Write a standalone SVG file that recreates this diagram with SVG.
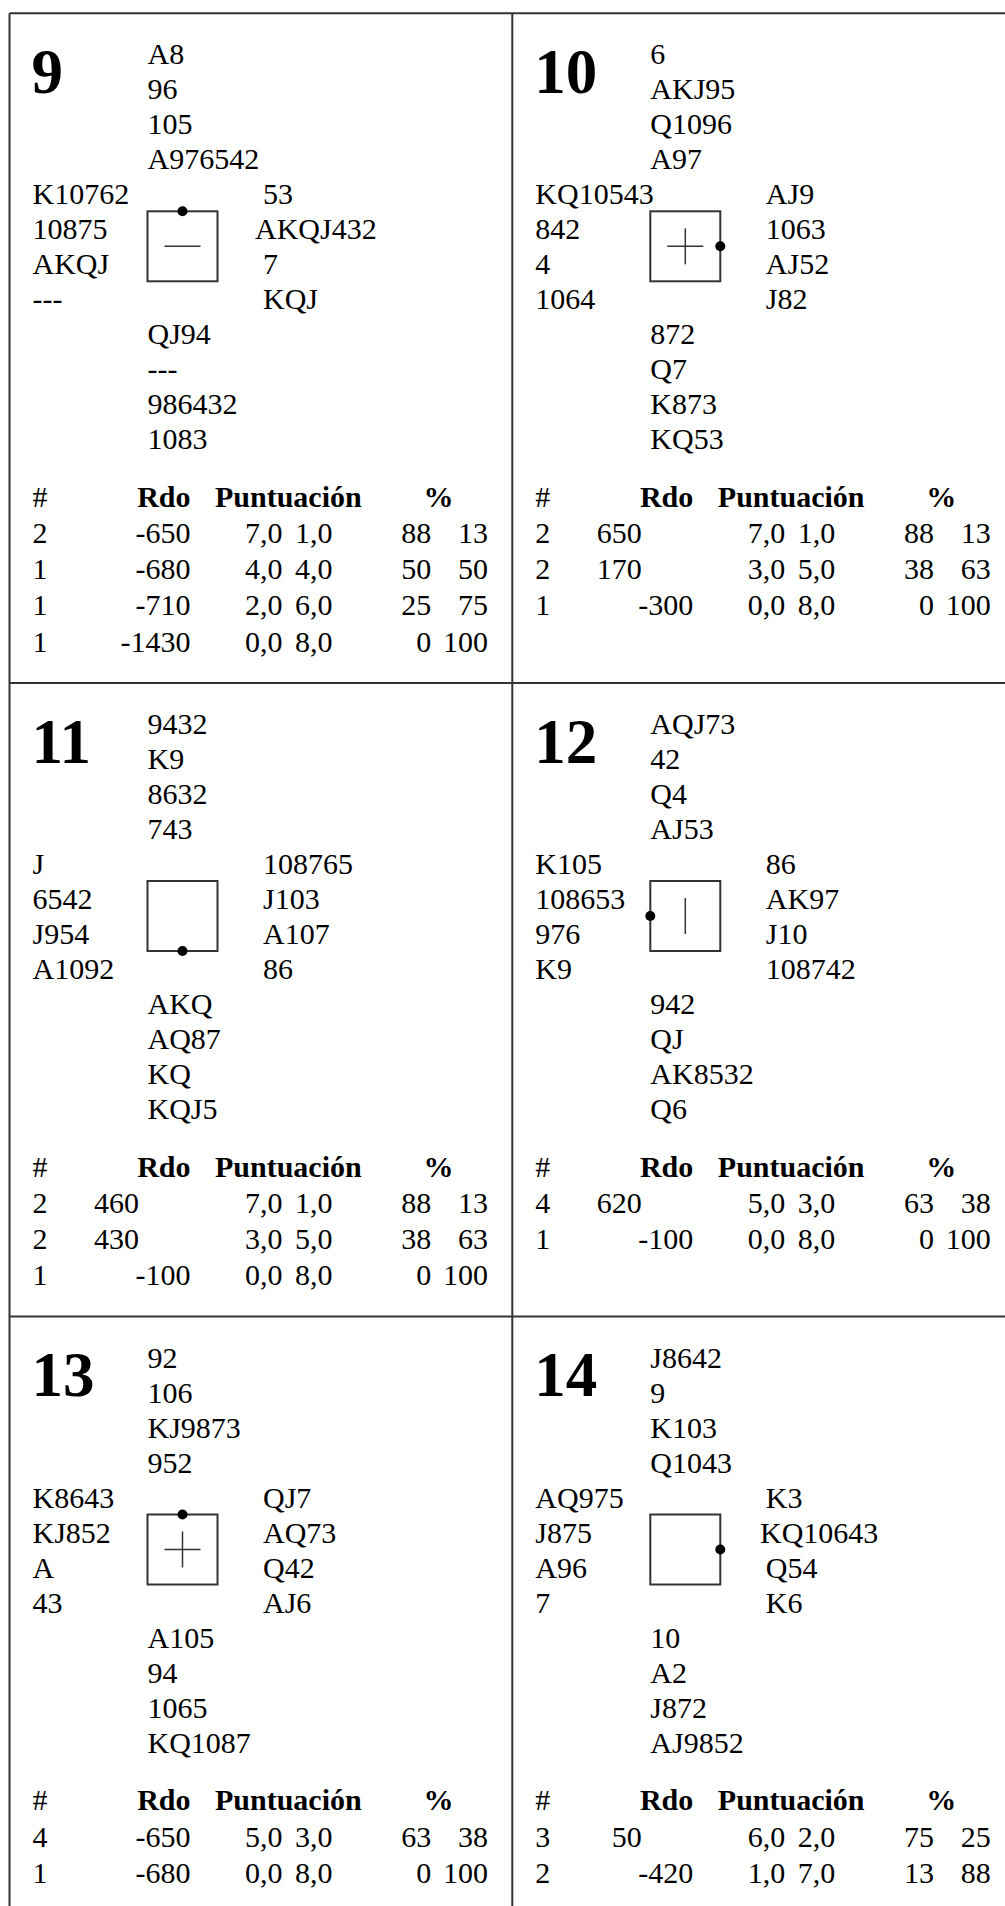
<svg xmlns="http://www.w3.org/2000/svg" width="1005" height="1906" viewBox="0 0 1005 1906">
<style>
text{font-family:"Liberation Serif","Times New Roman",serif;font-size:30px;fill:#000}
.n{font-size:63px;font-weight:bold}
.b{font-weight:bold}
.e{text-anchor:end}
.grid{stroke:#333;stroke-width:2;fill:none}
.box{stroke:#333;stroke-width:2;fill:none}
.mk{stroke:#333;stroke-width:1.5}
.dot{fill:#000}
</style>
<rect width="1005" height="1906" fill="#fff"/>
<g id="grid" class="grid">
<line x1="9.5" y1="13.3" x2="1005" y2="13.3"/>
<line x1="9.5" y1="13.3" x2="9.5" y2="1906"/>
<line x1="512.3" y1="13.3" x2="512.3" y2="1906"/>
<line x1="9.5" y1="683" x2="1005" y2="683"/>
<line x1="9.5" y1="1316.5" x2="1005" y2="1316.5"/>
</g>
<g id="connectors"></g>

<g id="p9" transform="translate(9.5,13.3)">
<text class="n" x="22" y="79.5">9</text>
<text x="138" y="51">A8</text><text x="138" y="86">96</text><text x="138" y="121">105</text><text x="138" y="156">A976542</text>
<text x="23" y="191">K10762</text><text x="23" y="226">10875</text><text x="23" y="261">AKQJ</text><text x="23" y="296">---</text>
<text x="253.5" y="191">53</text><text x="245.5" y="226">AKQJ432</text><text x="253.5" y="261">7</text><text x="253.5" y="296">KQJ</text>
<text x="138" y="331">QJ94</text><text x="138" y="366">---</text><text x="138" y="401">986432</text><text x="138" y="436">1083</text>
<rect class="box" x="138" y="198" width="70" height="70"/>
<line class="mk" x1="155" y1="233" x2="191" y2="233"/>
<circle class="dot" cx="173" cy="198" r="5"/>
<text x="23" y="493.5">#</text><text class="b e" x="181" y="493.5">Rdo</text><text class="b" x="205.5" y="493.5">Puntuación</text><text class="b" x="414" y="493.5">%</text>
<text x="23" y="530">2</text><text class="e" x="181" y="530">-650</text><text class="e" x="273" y="530">7,0</text><text class="e" x="323" y="530">1,0</text><text class="e" x="421.8" y="530">88</text><text class="e" x="478.5" y="530">13</text>
<text x="23" y="566">1</text><text class="e" x="181" y="566">-680</text><text class="e" x="273" y="566">4,0</text><text class="e" x="323" y="566">4,0</text><text class="e" x="421.8" y="566">50</text><text class="e" x="478.5" y="566">50</text>
<text x="23" y="602">1</text><text class="e" x="181" y="602">-710</text><text class="e" x="273" y="602">2,0</text><text class="e" x="323" y="602">6,0</text><text class="e" x="421.8" y="602">25</text><text class="e" x="478.5" y="602">75</text>
<text x="23" y="638.5">1</text><text class="e" x="181" y="638.5">-1430</text><text class="e" x="273" y="638.5">0,0</text><text class="e" x="323" y="638.5">8,0</text><text class="e" x="421.8" y="638.5">0</text><text class="e" x="478.5" y="638.5">100</text>
</g>

<g id="p10" transform="translate(512.3,13.3)">
<text class="n" x="22" y="79.5">10</text>
<text x="138" y="51">6</text><text x="138" y="86">AKJ95</text><text x="138" y="121">Q1096</text><text x="138" y="156">A97</text>
<text x="23" y="191">KQ10543</text><text x="23" y="226">842</text><text x="23" y="261">4</text><text x="23" y="296">1064</text>
<text x="253.5" y="191">AJ9</text><text x="253.5" y="226">1063</text><text x="253.5" y="261">AJ52</text><text x="253.5" y="296">J82</text>
<text x="138" y="331">872</text><text x="138" y="366">Q7</text><text x="138" y="401">K873</text><text x="138" y="436">KQ53</text>
<rect class="box" x="138" y="198" width="70" height="70"/>
<line class="mk" x1="155" y1="233" x2="191" y2="233"/><line class="mk" x1="173" y1="215" x2="173" y2="251"/>
<circle class="dot" cx="208" cy="233" r="5"/>
<text x="23" y="493.5">#</text><text class="b e" x="181" y="493.5">Rdo</text><text class="b" x="205.5" y="493.5">Puntuación</text><text class="b" x="414" y="493.5">%</text>
<text x="23" y="530">2</text><text class="e" x="129.5" y="530">650</text><text class="e" x="273" y="530">7,0</text><text class="e" x="323" y="530">1,0</text><text class="e" x="421.8" y="530">88</text><text class="e" x="478.5" y="530">13</text>
<text x="23" y="566">2</text><text class="e" x="129.5" y="566">170</text><text class="e" x="273" y="566">3,0</text><text class="e" x="323" y="566">5,0</text><text class="e" x="421.8" y="566">38</text><text class="e" x="478.5" y="566">63</text>
<text x="23" y="602">1</text><text class="e" x="181" y="602">-300</text><text class="e" x="273" y="602">0,0</text><text class="e" x="323" y="602">8,0</text><text class="e" x="421.8" y="602">0</text><text class="e" x="478.5" y="602">100</text>
</g>

<g id="p11" transform="translate(9.5,683)">
<text class="n" x="22" y="79.5">11</text>
<text x="138" y="51">9432</text><text x="138" y="86">K9</text><text x="138" y="121">8632</text><text x="138" y="156">743</text>
<text x="23" y="191">J</text><text x="23" y="226">6542</text><text x="23" y="261">J954</text><text x="23" y="296">A1092</text>
<text x="253.5" y="191">108765</text><text x="253.5" y="226">J103</text><text x="253.5" y="261">A107</text><text x="253.5" y="296">86</text>
<text x="138" y="331">AKQ</text><text x="138" y="366">AQ87</text><text x="138" y="401">KQ</text><text x="138" y="436">KQJ5</text>
<rect class="box" x="138" y="198" width="70" height="70"/>
<circle class="dot" cx="173" cy="268" r="5"/>
<text x="23" y="493.5">#</text><text class="b e" x="181" y="493.5">Rdo</text><text class="b" x="205.5" y="493.5">Puntuación</text><text class="b" x="414" y="493.5">%</text>
<text x="23" y="530">2</text><text class="e" x="129.5" y="530">460</text><text class="e" x="273" y="530">7,0</text><text class="e" x="323" y="530">1,0</text><text class="e" x="421.8" y="530">88</text><text class="e" x="478.5" y="530">13</text>
<text x="23" y="566">2</text><text class="e" x="129.5" y="566">430</text><text class="e" x="273" y="566">3,0</text><text class="e" x="323" y="566">5,0</text><text class="e" x="421.8" y="566">38</text><text class="e" x="478.5" y="566">63</text>
<text x="23" y="602">1</text><text class="e" x="181" y="602">-100</text><text class="e" x="273" y="602">0,0</text><text class="e" x="323" y="602">8,0</text><text class="e" x="421.8" y="602">0</text><text class="e" x="478.5" y="602">100</text>
</g>

<g id="p12" transform="translate(512.3,683)">
<text class="n" x="22" y="79.5">12</text>
<text x="138" y="51">AQJ73</text><text x="138" y="86">42</text><text x="138" y="121">Q4</text><text x="138" y="156">AJ53</text>
<text x="23" y="191">K105</text><text x="23" y="226">108653</text><text x="23" y="261">976</text><text x="23" y="296">K9</text>
<text x="253.5" y="191">86</text><text x="253.5" y="226">AK97</text><text x="253.5" y="261">J10</text><text x="253.5" y="296">108742</text>
<text x="138" y="331">942</text><text x="138" y="366">QJ</text><text x="138" y="401">AK8532</text><text x="138" y="436">Q6</text>
<rect class="box" x="138" y="198" width="70" height="70"/>
<line class="mk" x1="173" y1="215" x2="173" y2="251"/>
<circle class="dot" cx="138" cy="233" r="5"/>
<text x="23" y="493.5">#</text><text class="b e" x="181" y="493.5">Rdo</text><text class="b" x="205.5" y="493.5">Puntuación</text><text class="b" x="414" y="493.5">%</text>
<text x="23" y="530">4</text><text class="e" x="129.5" y="530">620</text><text class="e" x="273" y="530">5,0</text><text class="e" x="323" y="530">3,0</text><text class="e" x="421.8" y="530">63</text><text class="e" x="478.5" y="530">38</text>
<text x="23" y="566">1</text><text class="e" x="181" y="566">-100</text><text class="e" x="273" y="566">0,0</text><text class="e" x="323" y="566">8,0</text><text class="e" x="421.8" y="566">0</text><text class="e" x="478.5" y="566">100</text>
</g>

<g id="p13" transform="translate(9.5,1316.5)">
<text class="n" x="22" y="79.5">13</text>
<text x="138" y="51">92</text><text x="138" y="86">106</text><text x="138" y="121">KJ9873</text><text x="138" y="156">952</text>
<text x="23" y="191">K8643</text><text x="23" y="226">KJ852</text><text x="23" y="261">A</text><text x="23" y="296">43</text>
<text x="253.5" y="191">QJ7</text><text x="253.5" y="226">AQ73</text><text x="253.5" y="261">Q42</text><text x="253.5" y="296">AJ6</text>
<text x="138" y="331">A105</text><text x="138" y="366">94</text><text x="138" y="401">1065</text><text x="138" y="436">KQ1087</text>
<rect class="box" x="138" y="198" width="70" height="70"/>
<line class="mk" x1="155" y1="233" x2="191" y2="233"/><line class="mk" x1="173" y1="215" x2="173" y2="251"/>
<circle class="dot" cx="173" cy="198" r="5"/>
<text x="23" y="493.5">#</text><text class="b e" x="181" y="493.5">Rdo</text><text class="b" x="205.5" y="493.5">Puntuación</text><text class="b" x="414" y="493.5">%</text>
<text x="23" y="530">4</text><text class="e" x="181" y="530">-650</text><text class="e" x="273" y="530">5,0</text><text class="e" x="323" y="530">3,0</text><text class="e" x="421.8" y="530">63</text><text class="e" x="478.5" y="530">38</text>
<text x="23" y="566">1</text><text class="e" x="181" y="566">-680</text><text class="e" x="273" y="566">0,0</text><text class="e" x="323" y="566">8,0</text><text class="e" x="421.8" y="566">0</text><text class="e" x="478.5" y="566">100</text>
</g>

<g id="p14" transform="translate(512.3,1316.5)">
<text class="n" x="22" y="79.5">14</text>
<text x="138" y="51">J8642</text><text x="138" y="86">9</text><text x="138" y="121">K103</text><text x="138" y="156">Q1043</text>
<text x="23" y="191">AQ975</text><text x="23" y="226">J875</text><text x="23" y="261">A96</text><text x="23" y="296">7</text>
<text x="253.5" y="191">K3</text><text x="247.7" y="226">KQ10643</text><text x="253.5" y="261">Q54</text><text x="253.5" y="296">K6</text>
<text x="138" y="331">10</text><text x="138" y="366">A2</text><text x="138" y="401">J872</text><text x="138" y="436">AJ9852</text>
<rect class="box" x="138" y="198" width="70" height="70"/>
<circle class="dot" cx="208" cy="233" r="5"/>
<text x="23" y="493.5">#</text><text class="b e" x="181" y="493.5">Rdo</text><text class="b" x="205.5" y="493.5">Puntuación</text><text class="b" x="414" y="493.5">%</text>
<text x="23" y="530">3</text><text class="e" x="129.5" y="530">50</text><text class="e" x="273" y="530">6,0</text><text class="e" x="323" y="530">2,0</text><text class="e" x="421.8" y="530">75</text><text class="e" x="478.5" y="530">25</text>
<text x="23" y="566">2</text><text class="e" x="181" y="566">-420</text><text class="e" x="273" y="566">1,0</text><text class="e" x="323" y="566">7,0</text><text class="e" x="421.8" y="566">13</text><text class="e" x="478.5" y="566">88</text>
</g>
</svg>
